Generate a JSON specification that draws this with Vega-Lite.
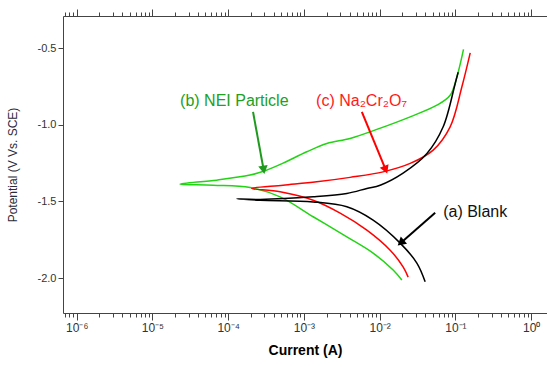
{
  "$schema": "https://vega.github.io/schema/vega-lite/v6.json",
  "width": 484,
  "height": 297,
  "autosize": {"type": "none"},
  "padding": {"left": 63, "top": 16, "right": 0, "bottom": 54},
  "background": "white",
  "config": {"view": {"stroke": null}, "font": "Liberation Sans"},
  "datasets": {
    "curves": [
      {"series": "nei", "i": 1, "I": 0.01963, "E": -2.013},
      {"series": "nei", "i": 2, "I": 0.01507, "E": -1.948},
      {"series": "nei", "i": 3, "I": 0.0082, "E": -1.837},
      {"series": "nei", "i": 4, "I": 0.00369, "E": -1.731},
      {"series": "nei", "i": 5, "I": 0.001324, "E": -1.6},
      {"series": "nei", "i": 6, "I": 0.000485, "E": -1.47},
      {"series": "nei", "i": 7, "I": 0.000195, "E": -1.409},
      {"series": "nei", "i": 8, "I": 0.0000631, "E": -1.394},
      {"series": "nei", "i": 9, "I": 0.0000232, "E": -1.387},
      {"series": "nei", "i": 10, "I": 0.0000706, "E": -1.361},
      {"series": "nei", "i": 11, "I": 0.0001945, "E": -1.328},
      {"series": "nei", "i": 12, "I": 0.000307, "E": -1.3},
      {"series": "nei", "i": 13, "I": 0.000531, "E": -1.25},
      {"series": "nei", "i": 14, "I": 0.001091, "E": -1.176},
      {"series": "nei", "i": 15, "I": 0.002009, "E": -1.122},
      {"series": "nei", "i": 16, "I": 0.00407, "E": -1.089},
      {"series": "nei", "i": 17, "I": 0.00918, "E": -1.03},
      {"series": "nei", "i": 18, "I": 0.0253, "E": -0.948},
      {"series": "nei", "i": 19, "I": 0.057, "E": -0.872},
      {"series": "nei", "i": 20, "I": 0.0853, "E": -0.807},
      {"series": "nei", "i": 21, "I": 0.1047, "E": -0.687},
      {"series": "nei", "i": 22, "I": 0.128, "E": -0.508},
      {"series": "na", "i": 1, "I": 0.0238, "E": -1.994},
      {"series": "na", "i": 2, "I": 0.0204, "E": -1.927},
      {"series": "na", "i": 3, "I": 0.01377, "E": -1.818},
      {"series": "na", "i": 4, "I": 0.00678, "E": -1.687},
      {"series": "na", "i": 5, "I": 0.00301, "E": -1.576},
      {"series": "na", "i": 6, "I": 0.001324, "E": -1.492},
      {"series": "na", "i": 7, "I": 0.000485, "E": -1.437},
      {"series": "na", "i": 8, "I": 0.000205, "E": -1.415},
      {"series": "na", "i": 9, "I": 0.000531, "E": -1.394},
      {"series": "na", "i": 10, "I": 0.001479, "E": -1.372},
      {"series": "na", "i": 11, "I": 0.00407, "E": -1.343},
      {"series": "na", "i": 12, "I": 0.01112, "E": -1.307},
      {"series": "na", "i": 13, "I": 0.0253, "E": -1.252},
      {"series": "na", "i": 14, "I": 0.0509, "E": -1.165},
      {"series": "na", "i": 15, "I": 0.0853, "E": -1.013},
      {"series": "na", "i": 16, "I": 0.1219, "E": -0.752},
      {"series": "na", "i": 17, "I": 0.157, "E": -0.531},
      {"series": "blank", "i": 1, "I": 0.0399, "E": -2.024},
      {"series": "blank", "i": 2, "I": 0.031, "E": -1.902},
      {"series": "blank", "i": 3, "I": 0.01866, "E": -1.772},
      {"series": "blank", "i": 4, "I": 0.0082, "E": -1.622},
      {"series": "blank", "i": 5, "I": 0.00369, "E": -1.535},
      {"series": "blank", "i": 6, "I": 0.001324, "E": -1.503},
      {"series": "blank", "i": 7, "I": 0.000264, "E": -1.492},
      {"series": "blank", "i": 8, "I": 0.00013, "E": -1.483},
      {"series": "blank", "i": 9, "I": 0.000264, "E": -1.487},
      {"series": "blank", "i": 10, "I": 0.001324, "E": -1.47},
      {"series": "blank", "i": 11, "I": 0.00369, "E": -1.448},
      {"series": "blank", "i": 12, "I": 0.00678, "E": -1.415},
      {"series": "blank", "i": 13, "I": 0.01016, "E": -1.394},
      {"series": "blank", "i": 14, "I": 0.0204, "E": -1.315},
      {"series": "blank", "i": 15, "I": 0.0421, "E": -1.187},
      {"series": "blank", "i": 16, "I": 0.069, "E": -1.013},
      {"series": "blank", "i": 17, "I": 0.0995, "E": -0.73},
      {"series": "blank", "i": 18, "I": 0.1089, "E": -0.657}
    ],
    "labels": [
      {"series": "nei", "label": "(b) NEI Particle", "I": 0.0000232, "E": -0.846},
      {"series": "na", "label": "(c) Na₂Cr₂O₇", "I": 0.001449, "E": -0.846},
      {"series": "blank", "label": "(a) Blank", "I": 0.069, "E": -1.57}
    ],
    "arrows": [
      {"series": "nei", "I": 0.000213, "E": -0.916, "I2": 0.000292, "E2": -1.285},
      {"series": "na", "I": 0.00582, "E": -0.916, "I2": 0.01183, "E2": -1.285},
      {"series": "blank", "I": 0.0541, "E": -1.574, "I2": 0.01963, "E2": -1.764}
    ]
  },
  "resolve": {"axis": {"x": "independent", "y": "independent"}, "scale": {"color": "independent"}},
  "layer": [
    {
      "data": {"name": "curves"},
      "mark": {"type": "line", "strokeWidth": 1.5, "interpolate": "catmull-rom"},
      "encoding": {
        "x": {
          "field": "I", "type": "quantitative",
          "scale": {"type": "log", "domain": [6.6e-7, 1.62], "nice": false},
          "axis": {
            "orient": "bottom",
            "values": [7e-7, 8e-7, 9e-7, 1e-6, 2e-6, 3e-6, 4e-6, 5e-6, 6e-6, 7e-6, 8e-6, 9e-6, 1e-5, 2e-5, 3e-5, 4e-5, 5e-5, 6e-5, 7e-5, 8e-5, 9e-5, 1e-4, 2e-4, 3e-4, 4e-4, 5e-4, 6e-4, 7e-4, 8e-4, 9e-4, 1e-3, 2e-3, 3e-3, 4e-3, 5e-3, 6e-3, 7e-3, 8e-3, 9e-3, 1e-2, 2e-2, 3e-2, 4e-2, 5e-2, 6e-2, 7e-2, 8e-2, 9e-2, 0.1, 0.2, 0.3, 0.4, 0.5, 0.6, 0.7, 0.8, 0.9, 1],
            "labelExpr": "abs(log(datum.value)/LN10 - round(log(datum.value)/LN10)) < 0.001 ? ['10⁻⁷','10⁻⁶','10⁻⁵','10⁻⁴','10⁻³','10⁻²','10⁻¹','10⁰'][round(log(datum.value)/LN10)+7] : ''",
            "tickSize": {"condition": {"test": "abs(log(datum.value)/LN10 - round(log(datum.value)/LN10)) < 0.001", "value": 7}, "value": 4},
            "labelOverlap": false,
            "labelFlush": false,
            "labelFontSize": 12,
            "labelColor": "#333333",
            "labelPadding": 2,
            "domainColor": "#444444",
            "tickColor": "#444444",
            "grid": false,
            "title": "Current (A)",
            "titleFontSize": 14,
            "titleFontWeight": "bold",
            "titleColor": "#000000",
            "titlePadding": 10
          }
        },
        "y": {
          "field": "E", "type": "quantitative",
          "scale": {"domain": [-2.228, -0.29], "nice": false, "zero": false},
          "axis": {
            "values": [-2, -1.5, -1, -0.5],
            "labelExpr": "replace(format(datum.value, '.1f'), '−', '-')",
            "labelFontSize": 11,
            "labelColor": "#333333",
            "labelPadding": 2,
            "tickSize": 5,
            "domainColor": "#444444",
            "tickColor": "#444444",
            "grid": false,
            "title": "Potential (V Vs. SCE)",
            "titleFontSize": 12,
            "titleFontWeight": "normal",
            "titleColor": "#2b2b3b",
            "titlePadding": 18
          }
        },
        "color": {
          "field": "series", "type": "nominal",
          "scale": {"domain": ["blank", "nei", "na"], "range": ["#000000", "#22d414", "#ff0000"]},
          "legend": null
        },
        "order": {"field": "i", "type": "quantitative"}
      }
    },
    {
      "data": {"name": "curves"},
      "mark": {"type": "point", "opacity": 0},
      "encoding": {
        "x": {
          "field": "I", "type": "quantitative",
          "scale": {"type": "log", "domain": [6.6e-7, 1.62], "nice": false},
          "axis": {
            "orient": "top",
            "values": [7e-7, 8e-7, 9e-7, 1e-6, 2e-6, 3e-6, 4e-6, 5e-6, 6e-6, 7e-6, 8e-6, 9e-6, 1e-5, 2e-5, 3e-5, 4e-5, 5e-5, 6e-5, 7e-5, 8e-5, 9e-5, 1e-4, 2e-4, 3e-4, 4e-4, 5e-4, 6e-4, 7e-4, 8e-4, 9e-4, 1e-3, 2e-3, 3e-3, 4e-3, 5e-3, 6e-3, 7e-3, 8e-3, 9e-3, 1e-2, 2e-2, 3e-2, 4e-2, 5e-2, 6e-2, 7e-2, 8e-2, 9e-2, 0.1, 0.2, 0.3, 0.4, 0.5, 0.6, 0.7, 0.8, 0.9, 1],
            "labels": false,
            "tickSize": {"condition": {"test": "abs(log(datum.value)/LN10 - round(log(datum.value)/LN10)) < 0.001", "value": 7}, "value": 4},
            "domainColor": "#444444",
            "tickColor": "#444444",
            "grid": false,
            "title": null
          }
        },
        "y": {
          "field": "E", "type": "quantitative",
          "scale": {"domain": [-2.228, -0.29], "nice": false, "zero": false},
          "axis": null
        }
      }
    },
    {
      "data": {"name": "arrows"},
      "mark": {"type": "rule", "strokeWidth": 2},
      "encoding": {
        "x": {"field": "I", "type": "quantitative", "scale": {"type": "log", "domain": [6.6e-7, 1.62], "nice": false}, "axis": null},
        "y": {"field": "E", "type": "quantitative", "scale": {"domain": [-2.228, -0.29], "nice": false, "zero": false}, "axis": null},
        "x2": {"field": "I2"},
        "y2": {"field": "E2"},
        "color": {
          "field": "series", "type": "nominal",
          "scale": {"domain": ["blank", "nei", "na"], "range": ["#000000", "#1f9a1f", "#ff0000"]},
          "legend": null
        }
      }
    },
    {
      "data": {"name": "arrows"},
      "transform": [{"filter": "datum.series == 'nei'"}],
      "mark": {"type": "point", "shape": "triangle", "filled": true, "size": 90, "angle": 170, "color": "#1f9a1f", "opacity": 1},
      "encoding": {
        "x": {"field": "I2", "type": "quantitative", "scale": {"type": "log", "domain": [6.6e-7, 1.62], "nice": false}, "axis": null},
        "y": {"field": "E2", "type": "quantitative", "scale": {"domain": [-2.228, -0.29], "nice": false, "zero": false}, "axis": null}
      }
    },
    {
      "data": {"name": "arrows"},
      "transform": [{"filter": "datum.series == 'na'"}],
      "mark": {"type": "point", "shape": "triangle", "filled": true, "size": 90, "angle": 158, "color": "#ff0000", "opacity": 1},
      "encoding": {
        "x": {"field": "I2", "type": "quantitative", "scale": {"type": "log", "domain": [6.6e-7, 1.62], "nice": false}, "axis": null},
        "y": {"field": "E2", "type": "quantitative", "scale": {"domain": [-2.228, -0.29], "nice": false, "zero": false}, "axis": null}
      }
    },
    {
      "data": {"name": "arrows"},
      "transform": [{"filter": "datum.series == 'blank'"}],
      "mark": {"type": "point", "shape": "triangle", "filled": true, "size": 90, "angle": 229, "color": "#000000", "opacity": 1},
      "encoding": {
        "x": {"field": "I2", "type": "quantitative", "scale": {"type": "log", "domain": [6.6e-7, 1.62], "nice": false}, "axis": null},
        "y": {"field": "E2", "type": "quantitative", "scale": {"domain": [-2.228, -0.29], "nice": false, "zero": false}, "axis": null}
      }
    },
    {
      "data": {"name": "labels"},
      "mark": {"type": "text", "align": "left", "baseline": "middle", "fontSize": 16},
      "encoding": {
        "x": {"field": "I", "type": "quantitative", "scale": {"type": "log", "domain": [6.6e-7, 1.62], "nice": false}, "axis": null},
        "y": {"field": "E", "type": "quantitative", "scale": {"domain": [-2.228, -0.29], "nice": false, "zero": false}, "axis": null},
        "text": {"field": "label"},
        "color": {
          "field": "series", "type": "nominal",
          "scale": {"domain": ["blank", "nei", "na"], "range": ["#111111", "#22a022", "#ff1a1a"]},
          "legend": null
        }
      }
    }
  ]
}
